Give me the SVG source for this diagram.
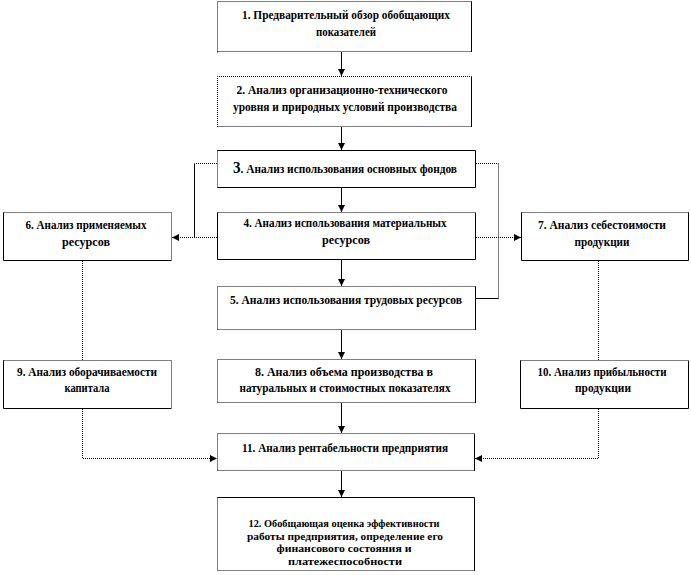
<svg xmlns="http://www.w3.org/2000/svg" width="691" height="575" viewBox="0 0 691 575">
<style>
.bg{fill:#fff;stroke:none}
.s{fill:none;stroke:#000;stroke-width:1}
.d{fill:none;stroke:#000;stroke-width:1;stroke-dasharray:1 1}
.t{font-family:"Liberation Serif","Times New Roman",serif;font-weight:bold;font-size:12px;fill:#000;text-anchor:middle}
.t2{font-size:10.5px}
.c{fill:none;stroke:#000;stroke-width:1}
.cd{fill:none;stroke:#000;stroke-width:1;stroke-dasharray:1 1}
</style>
<defs>
<marker id="ah" markerUnits="userSpaceOnUse" markerWidth="7" markerHeight="7" refX="7" refY="3.5" orient="auto">
<path d="M0,0 L7,3.5 L0,7 z" fill="#000"/>
</marker>
</defs>
<rect width="691" height="575" fill="#fff"/>

<g id="connectors">
<line class="c" x1="341.5" y1="52" x2="341.5" y2="76" marker-end="url(#ah)"/>
<line class="c" x1="341.5" y1="127" x2="341.5" y2="150" marker-end="url(#ah)"/>
<line class="c" x1="341.5" y1="188" x2="341.5" y2="212" marker-end="url(#ah)"/>
<line class="c" x1="341.5" y1="260" x2="341.5" y2="286" marker-end="url(#ah)"/>
<line class="c" x1="341.5" y1="330" x2="341.5" y2="359" marker-end="url(#ah)"/>
<line class="c" x1="341.5" y1="403" x2="341.5" y2="433" marker-end="url(#ah)"/>
<line class="c" x1="341.5" y1="471" x2="341.5" y2="497" marker-end="url(#ah)"/>
<line class="cd" x1="217" y1="163.5" x2="194.5" y2="163.5"/>
<line class="c" x1="194.5" y1="163.5" x2="194.5" y2="237.5"/>
<line class="cd" x1="217" y1="237.5" x2="172" y2="237.5" marker-end="url(#ah)"/>
<line class="cd" x1="476" y1="163.5" x2="498.5" y2="163.5"/>
<line class="cd" x1="498.5" y1="163.5" x2="498.5" y2="298.5"/>
<line class="c" x1="476" y1="298.5" x2="498.5" y2="298.5"/>
<line class="cd" x1="476" y1="237.5" x2="521" y2="237.5" marker-end="url(#ah)"/>
<line class="cd" x1="82.5" y1="261" x2="82.5" y2="360"/>
<polyline class="cd" points="82.5,409 82.5,458.5 217,458.5" marker-end="url(#ah)"/>
<line class="cd" x1="598.5" y1="261" x2="598.5" y2="360"/>
<polyline class="cd" points="598.5,409 598.5,458.5 475,458.5" marker-end="url(#ah)"/>
</g>

<g id="n1">
<rect class="bg" x="217" y="1" width="255" height="51"/>
<path class="d" d="M217.5,52.5 V1.5 H471.5 M217.5,51.5 H471.5"/>
<path class="s" d="M471.5,1.5 V52"/>
<text class="t" x="346" y="19" textLength="208" lengthAdjust="spacingAndGlyphs">1. Предварительный обзор обобщающих</text>
<text class="t" x="346" y="36" textLength="60" lengthAdjust="spacingAndGlyphs">показателей</text>
</g>

<g id="n2">
<rect class="bg" x="217" y="76" width="255" height="51"/>
<path class="d" d="M217.5,127 V76.5 H471.5 M217.5,126.5 H471.5"/>
<path class="s" d="M471.5,76.5 V127"/>
<text class="t" x="342" y="94" textLength="211" lengthAdjust="spacingAndGlyphs">2. Анализ организационно-технического</text>
<text class="t" x="345" y="111" textLength="224" lengthAdjust="spacingAndGlyphs">уровня и природных условий производства</text>
</g>

<g id="n3">
<rect class="bg" x="217" y="150" width="259" height="38"/>
<path class="d" d="M217.5,150.5 V187.5"/>
<path class="s" d="M217.5,150.5 H475.5 V187.5 H217.5"/>
<text class="t" x="345" y="173" textLength="224" lengthAdjust="spacingAndGlyphs"><tspan font-size="16">3</tspan>. Анализ использования основных фондов</text>
</g>

<g id="n4">
<rect class="bg" x="217" y="212" width="259" height="48"/>
<path class="d" d="M217.5,212.5 H475.5"/>
<path class="s" d="M217.5,212.5 V259.5 H475.5 V212.5"/>
<text class="t" x="345" y="227" textLength="203" lengthAdjust="spacingAndGlyphs">4. Анализ использования материальных</text>
<text class="t" x="346" y="244" textLength="48" lengthAdjust="spacingAndGlyphs">ресурсов</text>
</g>

<g id="n5">
<rect class="bg" x="217" y="286" width="259" height="44"/>
<path class="d" d="M217.5,329.5 V286.5 H475.5 M217.5,329.5 H475.5"/>
<path class="s" d="M475.5,286.5 V330"/>
<text class="t" x="346" y="304" textLength="232" lengthAdjust="spacingAndGlyphs">5. Анализ использования трудовых ресурсов</text>
</g>

<g id="n6">
<rect class="bg" x="3" y="212" width="169" height="49"/>
<path class="d" d="M3.5,212.5 H171.5 V260.5"/>
<path class="s" d="M3.5,212.5 V260.5 H171.5"/>
<text class="t" x="86" y="229" textLength="121" lengthAdjust="spacingAndGlyphs">6. Анализ применяемых</text>
<text class="t" x="86" y="246" textLength="48" lengthAdjust="spacingAndGlyphs">ресурсов</text>
</g>

<g id="n7">
<rect class="bg" x="521" y="212" width="168" height="49"/>
<path class="d" d="M521.5,212.5 H688.5"/>
<path class="s" d="M521.5,212.5 V260.5 H688.5 V212.5"/>
<text class="t" x="602" y="229" textLength="128" lengthAdjust="spacingAndGlyphs">7. Анализ себестоимости</text>
<text class="t" x="602" y="246" textLength="55" lengthAdjust="spacingAndGlyphs">продукции</text>
</g>

<g id="n8">
<rect class="bg" x="217" y="359" width="259" height="44"/>
<path class="d" d="M217.5,402.5 V359.5 H475.5 M217.5,402.5 H475.5"/>
<path class="s" d="M475.5,359.5 V403"/>
<text class="t" x="344" y="376" textLength="178" lengthAdjust="spacingAndGlyphs">8. Анализ объема производства в</text>
<text class="t" x="345" y="392" textLength="211" lengthAdjust="spacingAndGlyphs">натуральных и стоимостных показателях</text>
</g>

<g id="n9">
<rect class="bg" x="3" y="360" width="169" height="49"/>
<path class="d" d="M3.5,360.5 H171.5 V408.5"/>
<path class="s" d="M3.5,360.5 V408.5 H171.5"/>
<text class="t" x="87" y="376" textLength="140" lengthAdjust="spacingAndGlyphs">9. Анализ оборачиваемости</text>
<text class="t" x="87" y="392" textLength="45" lengthAdjust="spacingAndGlyphs">капитала</text>
</g>

<g id="n10">
<rect class="bg" x="520" y="360" width="169" height="49"/>
<path class="d" d="M520.5,360.5 H688.5"/>
<path class="s" d="M520.5,360.5 V408.5 H688.5 V360.5"/>
<text class="t" x="602" y="376" textLength="129" lengthAdjust="spacingAndGlyphs">10. Анализ прибыльности</text>
<text class="t" x="603" y="392" textLength="56" lengthAdjust="spacingAndGlyphs">продукции</text>
</g>

<g id="n11">
<rect class="bg" x="217" y="433" width="258" height="38"/>
<path class="d" d="M217.5,470.5 V433.5 H474.5 M217.5,470.5 H474.5"/>
<path class="s" d="M474.5,433.5 V471"/>
<text class="t" x="345" y="452" textLength="206" lengthAdjust="spacingAndGlyphs">11. Анализ рентабельности предприятия</text>
</g>

<g id="n12">
<rect class="bg" x="217" y="497" width="258" height="74"/>
<path class="d" d="M217.5,497.5 V570.5 H474.5"/>
<path class="s" d="M217.5,497.5 H474.5 V571"/>
<text class="t t2" x="344" y="527" textLength="191" lengthAdjust="spacingAndGlyphs">12. Обобщающая оценка эффективности</text>
<text class="t t2" x="345" y="539.5" textLength="196" lengthAdjust="spacingAndGlyphs">работы предприятия, определение его</text>
<text class="t t2" x="344" y="552" textLength="135" lengthAdjust="spacingAndGlyphs">финансового состояния и</text>
<text class="t t2" x="345" y="564.5" textLength="114" lengthAdjust="spacingAndGlyphs">платежеспособности</text>
</g>
</svg>
